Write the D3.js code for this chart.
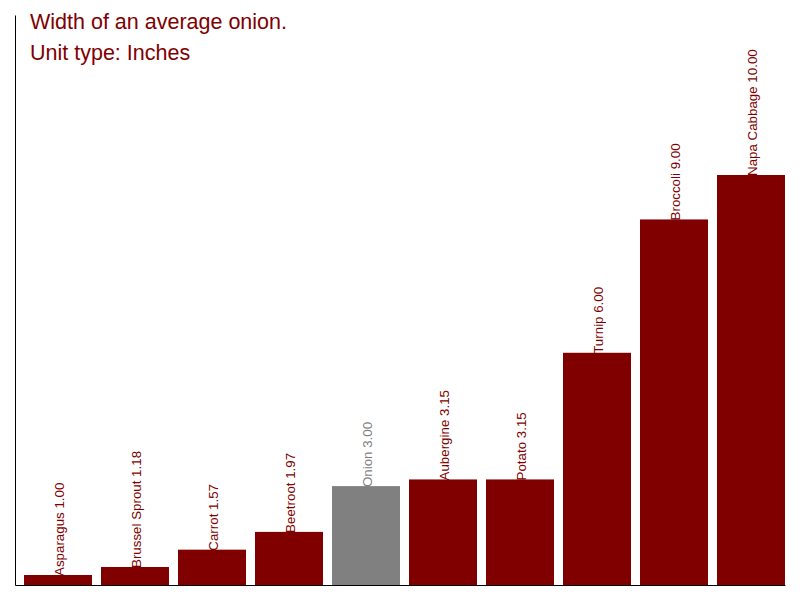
<!DOCTYPE html>
<html>
<head>
<meta charset="utf-8">
<script src="https://cdn.jsdelivr.net/npm/d3@7"></script>
<style>
html,body{margin:0;padding:0;background:#fff;}
svg{display:block;font-family:"Liberation Sans",Arial,sans-serif;}
</style>
</head>
<body>
<svg id="chart" width="800" height="600"></svg>
<script>
const categories = ["Asparagus","Brussel Sprout","Carrot","Beetroot","Onion","Aubergine","Potato","Turnip","Broccoli","Napa Cabbage"];
const values = [1.00,1.18,1.57,1.97,3.00,3.15,3.15,6.00,9.00,10.00];
const highlight = "Onion";
const titleLines = ["Width of an average onion.","Unit type: Inches"];

(function(){
const data = categories.map((c,i)=>({name:c,value:values[i]}));
const svg = d3.select("#chart");
const mLeft = 15, mRight = 785, mTop = 15, mBottom = 585;

const x = d3.scaleBand().domain(categories).range([mLeft,mRight])
  .paddingInner(9/77).paddingOuter(4.5/77).align(1);
const y = d3.scaleLinear().domain([0.775,13.6]).range([mBottom,mTop]);

const red = "#800000", grey = "#808080";

svg.append("g").selectAll("rect").data(data).join("rect")
  .attr("x",d=>x(d.name)).attr("width",x.bandwidth())
  .attr("y",d=>y(d.value)).attr("height",d=>mBottom-y(d.value))
  .attr("fill",d=>d.name===highlight?grey:red);

svg.append("g").selectAll("text").data(data).join("text")
  .attr("transform",d=>`translate(${x(d.name)+x.bandwidth()/2+1},${y(d.value)+1}) rotate(-90)`)
  .attr("dy","0.35em")
  .attr("font-size","13.33px")
  .attr("fill",d=>d.name===highlight?grey:red)
  .text(d=>`${d.name} ${d3.format(".2f")(d.value)}`);

const yAxis = d3.axisLeft(y).tickValues([]).tickSizeOuter(0);
svg.append("g").attr("transform",`translate(${mLeft},0)`).call(yAxis)
  .select(".domain").attr("stroke","#000");
const xAxis = d3.axisBottom(x).tickValues([]).tickSizeOuter(0);
svg.append("g").attr("transform",`translate(0,${mBottom})`).call(xAxis)
  .select(".domain").attr("stroke","#000");

svg.append("g").selectAll("text").data(titleLines).join("text")
  .attr("x",30).attr("y",(d,i)=>29+i*31)
  .attr("font-size","21.5px").attr("fill",red)
  .text(d=>d);
})();
</script>
</body>
</html>
